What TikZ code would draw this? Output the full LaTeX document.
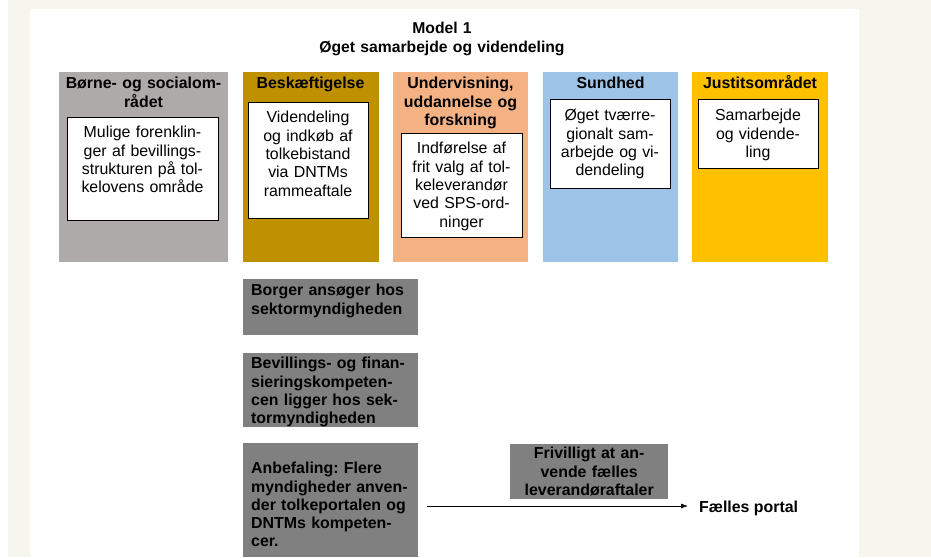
\documentclass[tikz,border=0pt]{standalone}
\usepackage{fontspec}
\setmainfont{Liberation Sans}
\usepackage{tikz}
\usetikzlibrary{arrows.meta, positioning}
\usepackage{xcolor}
\definecolor{pagebg}{RGB}{246,245,238}
\definecolor{socgray}{RGB}{174,170,170}
\definecolor{beskgold}{RGB}{191,144,0}
\definecolor{undsalmon}{RGB}{244,177,131}
\definecolor{sundblue}{RGB}{157,195,230}
\definecolor{justyellow}{RGB}{255,192,0}
\definecolor{stepgray}{RGB}{128,128,128}
\newcommand{\txt}{\fontsize{15.9}{18.3}\selectfont}
\frenchspacing

\tikzset{
  area/.style={anchor=north, inner sep=0pt, text width=#1, align=center, font=\txt\bfseries, text height=16.5pt, text depth=173.5pt},
  wbox/.style={draw=black, line width=0.9pt, fill=white, anchor=north, inner sep=0pt, text width=#1, align=center, font=\txt},
  gbox/.style={fill=stepgray, anchor=north west, inner xsep=8pt, inner ysep=0pt, text width=#1, align=left, font=\txt\bfseries},
}

\begin{document}
\begin{tikzpicture}[x=1pt, y=-1pt]
  \path[use as bounding box, fill=white] (0,0) rectangle (931,557);
  \fill[pagebg] (8,0) rectangle (931,557);
  \fill[white] (30,9) rectangle (859,557);

  \node[font=\fontsize{15.7}{19.5}\selectfont\bfseries, text width=300pt, align=center, inner sep=0pt, anchor=base] (title) at (442,33) {Model 1\\Øget samarbejde og videndeling};

  % sector columns
  \node[area=169pt, fill=socgray] (soc) at (143.5,72) {Børne- og socialom-\\rådet};
  \node[area=136pt, fill=beskgold] (besk) at (310.5,72) {Beskæftigelse};
  \node[area=135pt, fill=undsalmon] (und) at (460.5,72) {Undervisning,\\uddannelse og\\forskning};
  \node[area=135pt, fill=sundblue] (sund) at (610.5,72) {Sundhed};
  \node[area=136pt, fill=justyellow] (just) at (760,72) {Justitsområdet};

  \node[wbox=151pt, text height=20.5pt, text depth=82.5pt] (socbox) at (142.5,117) {Mulige forenklin-\\ger af bevillings-\\strukturen på tol-\\kelovens område};
  \node[wbox=120pt, text height=20.5pt, text depth=95.5pt] (beskbox) at (308,102) {Videndeling\\og indkøb af\\tolkebistand\\via DNTMs\\rammeaftale};
  \node[wbox=121pt, text height=20.5pt, text depth=83.5pt] (undbox) at (461.5,133) {Indførelse af\\frit valg af tol-\\keleverandør\\ved SPS-ord-\\ninger};
  \node[wbox=120pt, text height=21.5pt, text depth=67.5pt] (sundbox) at (610,99) {Øget tværre-\\gionalt sam-\\arbejde og vi-\\dendeling};
  \node[wbox=120pt, text height=21.5pt, text depth=47.5pt] (justbox) at (758,99) {Samarbejde\\og vidende-\\ling};

  % steps
  \node[gbox=159pt, text height=16.5pt, text depth=39.5pt] (borger) at (243,279) {Borger ansøger hos\\sektormyndigheden};
  \node[gbox=159pt, text height=15.5pt, text depth=58.5pt] (bevil) at (243,353) {Bevillings- og finan-\\sieringskompeten-\\cen ligger hos sek-\\tormyndigheden};
  \node[gbox=159pt, text height=30.5pt, text depth=83.5pt] (anbef) at (243,443) {Anbefaling: Flere\\myndigheder anven-\\der tolkeportalen og\\DNTMs kompeten-\\cer.};
  \node[gbox=158pt, inner xsep=0pt, align=center, text height=14.5pt, text depth=40.5pt] (friv) at (510,444) {Frivilligt at an-\\vende fælles\\leverandøraftaler};

  \node[anchor=west, inner xsep=11pt, inner ysep=0pt, font=\txt\bfseries] (portal) at (688,508) {Fælles portal};
  \coordinate (arrstart) at (427,506);
  \draw[-{Latex[length=7pt,width=5pt]}, line width=0.7pt] (arrstart) -- (arrstart -| portal.west);
\end{tikzpicture}
\end{document}
